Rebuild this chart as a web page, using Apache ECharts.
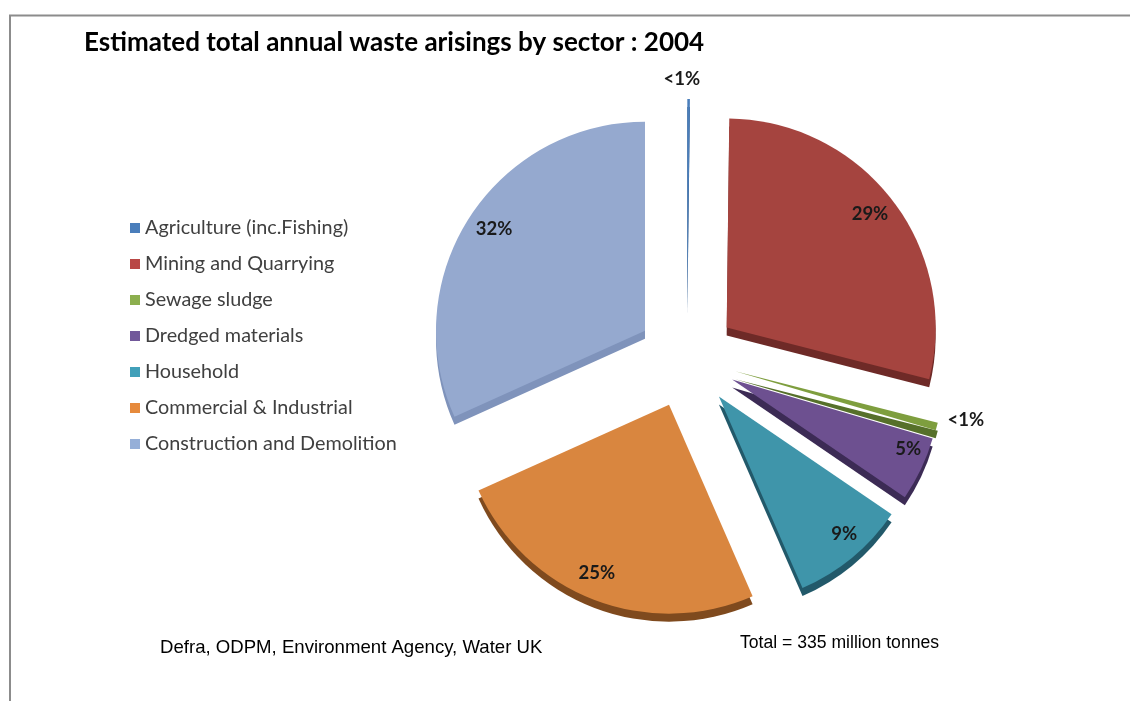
<!DOCTYPE html>
<html>
<head>
<meta charset="utf-8">
<script src="https://cdn.jsdelivr.net/npm/echarts@6/dist/echarts.min.js"></script>
<style>
html,body{margin:0;padding:0;background:#fff;}
#chart{width:1130px;height:701px;}
</style>
</head>
<body>
<div id="chart"></div>
<script>
var categories = ['Agriculture (inc.Fishing)','Mining and Quarrying','Sewage sludge','Dredged materials','Household','Commercial & Industrial','Construction and Demolition'];
var values = [0.2, 29, 0.6, 5, 9, 25, 32];
var labels = ['<1%','29%','<1%','5%','9%','25%','32%'];
var outsideLabel = [true,false,true,false,false,false,false];
var topColors = ['#4A7EBB','#A5443F','#7E9E3E','#6D5090','#3F95AA','#D9863F','#95A9CF'];
var sideColors = ['#2E527E','#6E2A27','#56702A','#3C2B55','#22596A','#7F4A1E','#7F93BB'];
var legendColors = ['#4A7EBB','#B94745','#8CAF4E','#71589A','#41A0B9','#E68A3C','#95AFD8'];
// label nudges: horizontal padding [right, left], vertical shift in px (negative = up)
var labelPadX = [[14,0],[10,0],[0,20],[0,14],[0,12],[10,0],[0,12]];
var labelShiftY = [0,0,-12,-10,-6,-6,0];

var CX = 687, CY = 358, R = 209, OFF = 50, DEPTH = 8;

function labelFor(i, show){
  var s = labelShiftY[i];
  var lbl = {show:show, padding:[0, labelPadX[i][0], 0, labelPadX[i][1]]};
  if (s !== 0) { lbl.lineHeight = Math.abs(s) * 2; }
  return lbl;
}

function makeData(colors, labelMode){
  return categories.map(function(c,i){
    var d = {name:c, value:values[i], selected:true, itemStyle:{color:colors ? colors[i] : 'rgba(0,0,0,0)'}};
    if(labelMode === 'inner'){ d.label = labelFor(i, !outsideLabel[i]); }
    if(labelMode === 'outer'){ d.label = labelFor(i, outsideLabel[i]); }
    return d;
  });
}

var labelStyle = {
  position:'inside',
  formatter:function(p){
    var i = p.dataIndex, s = labelShiftY[i];
    if (s < 0) return labels[i] + '\n ';
    if (s > 0) return ' \n' + labels[i];
    return labels[i];
  },
  fontFamily:'Lato, "Open Sans", sans-serif',
  fontWeight:'bold',
  fontSize:18.5,
  color:'#1a1a1a'
};

var base = {
  type:'pie', startAngle:90, clockwise:true,
  selectedMode:'multiple', selectedOffset:OFF,
  emphasis:{disabled:true}, silent:true, avoidLabelOverlap:false,
  labelLine:{show:false}
};

var option = {
  animation:false,
  backgroundColor:'#ffffff',
  title:{
    text:'Estimated total annual waste arisings by sector : 2004',
    left:79, top:25,
    textStyle:{fontFamily:'Lato, "Open Sans", sans-serif', fontWeight:'bold', fontSize:26, color:'#000'}
  },
  legend:{
    orient:'vertical', left:125, top:213,
    itemWidth:10, itemHeight:10, itemGap:16, icon:'rect',
    selectedMode:false,
    textStyle:{fontFamily:'Lato, "Open Sans", sans-serif', fontSize:19.8, color:'#404040', lineHeight:20},
    data:categories.map(function(c,i){return {name:c, itemStyle:{color:legendColors[i]}};})
  },
  graphic:[
    {type:'polyline', shape:{points:[[10,701],[10,15.5],[1130,15.5]]}, style:{stroke:'#8c8c8c', lineWidth:2, fill:null}},
    {type:'text', left:160, top:638, style:{text:'Defra, ODPM, Environment Agency, Water UK', font:'18.6px "Liberation Sans", Arial, sans-serif', fill:'#000'}},
    {type:'text', left:740, top:634, style:{text:'Total = 335 million tonnes', font:'17.6px "Liberation Sans", Arial, sans-serif', fill:'#000'}}
  ],
  series:[
    Object.assign({}, base, {name:'main', center:[CX,CY], radius:[0,R], z:3,
      label:{show:false}, data:makeData(topColors,null)}),
    Object.assign({}, base, {name:'side', center:[CX,CY+DEPTH], radius:[0,R], z:2,
      label:{show:false}, data:makeData(sideColors,null)}),
    Object.assign({}, base, {name:'lblIn', center:[CX,CY], radius:[R*0.76,R], z:5,
      label:labelStyle, data:makeData(null,'inner')}),
    Object.assign({}, base, {name:'lblOut', center:[CX,CY], radius:[R,R*1.16], z:5,
      label:labelStyle, data:makeData(null,'outer')})
  ]
};
var chart = echarts.init(document.getElementById('chart'), null, {renderer:'canvas'});
chart.setOption(option);
</script>
</body>
</html>
